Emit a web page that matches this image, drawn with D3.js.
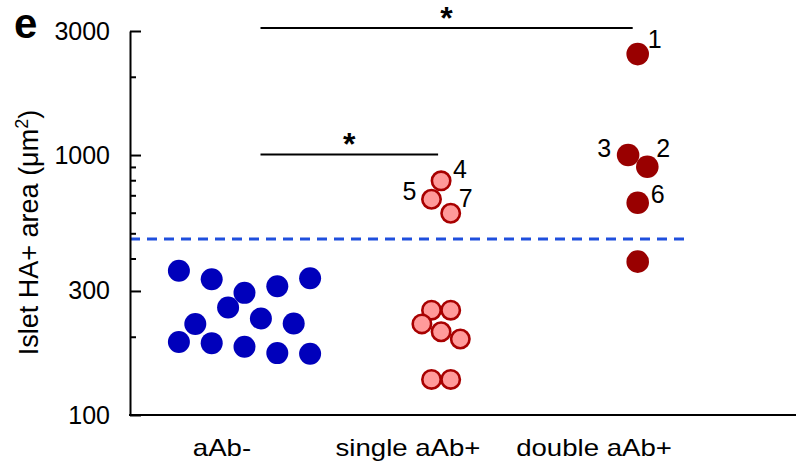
<!DOCTYPE html>
<html>
<head>
<meta charset="utf-8">
<script src="https://cdn.jsdelivr.net/npm/d3@7"></script>
<style>
  body { margin: 0; background: #fff; }
  svg { font-family: "Liberation Sans", Arial, sans-serif; }
</style>
</head>
<body>
<svg width="798" height="470"></svg>
<script>
// groups on the x axis
const categories = ["aAb-", "single aAb+", "double aAb+"];

// islet HA+ area (um^2), slot = horizontal jitter slot within the group
const negValues = [359, 333, 295, 313, 336, 259, 235, 224, 225, 191, 189, 183, 173, 172];
const negSlots  = [-4, -2, 0, 2, 4, -1, 1, -3, 3, -4, -2, 0, 2, 4];

const singleValues = [796, 676, 597, 253, 253, 224, 209, 196, 137, 137];
const singleSlots  = [0, -1, 1, -1, 1, -2, 0, 2, -1, 1];
const singleIds    = ["4", "5", "7", "", "", "", "", "", "", ""];

const doubleValues = [2445, 1000, 902, 655, 389];
const doubleSlots  = [0, -1, 1, 0, 0];
const doubleIds    = ["1", "3", "2", "6", ""];

const cutoff = 475;
const yTicks = [100, 300, 1000, 3000];
const yMinorTicks = [200, 400, 500, 600, 700, 800, 900, 2000];

// significance bars: [from group, to group, value level]
const sigBars = [
  ["aAb-", "double aAb+", 3080],
  ["aAb-", "single aAb+", 1005]
];

// label placement next to numbered points
const idOffsets = {
  "1": [10, -6, "start"], "2": [9, -10, "start"], "3": [-17, 2, "end"],
  "6": [13, 0, "start"], "4": [12, -3, "start"], "5": [-15, 1, "end"], "7": [8, -6, "start"]
};

var svg = d3.select("svg");

var x = d3.scalePoint().domain(categories).range([244.5, 637.7]);
var xLabel = d3.scalePoint().domain(categories).range([222, 594]);
var y = d3.scaleLog().domain([100, 3000]).range([415, 31]);

const groups = [
  { cat: "aAb-", values: negValues, slots: negSlots, ids: [], step: 16.4, r: 11, fill: "#0000bb", stroke: "none", sw: 0 },
  { cat: "single aAb+", values: singleValues, slots: singleSlots, ids: singleIds, step: 9.6, r: 9.2, fill: "#ff9a9a", stroke: "#a80000", sw: 2.6 },
  { cat: "double aAb+", values: doubleValues, slots: doubleSlots, ids: doubleIds, step: 9.6, r: 11.3, fill: "#990000", stroke: "none", sw: 0 }
];

// cutoff line
svg.append("line")
  .attr("x1", 130).attr("x2", 686)
  .attr("y1", y(cutoff)).attr("y2", y(cutoff))
  .attr("stroke", "#1f4fdd")
  .attr("stroke-width", 3)
  .attr("stroke-dasharray", "10,7");

// y axis
svg.append("g")
  .attr("transform", "translate(130,0)")
  .call(d3.axisLeft(y).tickValues(yMinorTicks).tickSize(-6).tickSizeOuter(0).tickFormat(""))
  .call(g => g.select(".domain").remove())
  .selectAll("line").attr("stroke-width", 2);

svg.append("g")
  .attr("transform", "translate(130,0)")
  .call(d3.axisLeft(y).tickValues(yTicks).tickSize(-11).tickSizeOuter(0).tickPadding(20).tickFormat(d3.format("d")))
  .call(g => g.select(".domain").attr("stroke-width", 2))
  .call(g => g.selectAll("line").attr("stroke-width", 2))
  .call(g => g.selectAll("text").attr("font-size", 25).attr("fill", "#000").attr("font-family", "Liberation Sans, Arial, sans-serif"));

// x axis baseline
svg.append("line")
  .attr("x1", 129).attr("x2", 796)
  .attr("y1", y(100)).attr("y2", y(100))
  .attr("stroke", "#000").attr("stroke-width", 2);

svg.append("g")
  .selectAll("text")
  .data(categories)
  .join("text")
  .attr("transform", d => "translate(" + xLabel(d) + ",455.5) scale(1.2,1)")
  .attr("text-anchor", "middle")
  .attr("font-size", 23)
  .text(d => d);

// y label
svg.append("text")
  .attr("transform", "translate(38,232.5) rotate(-90)")
  .attr("text-anchor", "middle")
  .attr("font-size", 27)
  .html('Islet HA+ area (μm<tspan dy="-10" font-size="18">2</tspan><tspan dy="10">)</tspan>');

// panel letter
svg.append("text")
  .attr("x", 14).attr("y", 38)
  .attr("font-size", 42).attr("font-weight", "bold")
  .text("e");

// points
groups.forEach(grp => {
  const pts = grp.values.map((v, i) => ({ v: v, s: grp.slots[i], id: grp.ids[i] || "" }));
  const cx = d => x(grp.cat) + d.s * grp.step;

  svg.append("g")
    .selectAll("circle")
    .data(pts)
    .join("circle")
    .attr("cx", cx)
    .attr("cy", d => y(d.v))
    .attr("r", grp.r)
    .attr("fill", grp.fill)
    .attr("stroke", grp.stroke)
    .attr("stroke-width", grp.sw);

  svg.append("g")
    .selectAll("text")
    .data(pts.filter(d => d.id))
    .join("text")
    .attr("x", d => cx(d) + idOffsets[d.id][0])
    .attr("y", d => y(d.v) + idOffsets[d.id][1])
    .attr("text-anchor", d => idOffsets[d.id][2])
    .attr("font-size", 25)
    .text(d => d.id);
});

// significance bars
sigBars.forEach(b => {
  var x1 = x(b[0]) + 16, x2 = b[1] === "double aAb+" ? x(b[1]) - 5 : x(b[1]) - 3;
  svg.append("line")
    .attr("x1", x1).attr("x2", x2)
    .attr("y1", y(b[2])).attr("y2", y(b[2]))
    .attr("stroke", "#000").attr("stroke-width", 2);
  svg.append("text")
    .attr("x", (x1 + x2) / 2)
    .attr("y", y(b[2]) + 1)
    .attr("text-anchor", "middle")
    .attr("font-size", 32)
    .attr("font-weight", "bold")
    .text("*");
});
</script>
</body>
</html>
